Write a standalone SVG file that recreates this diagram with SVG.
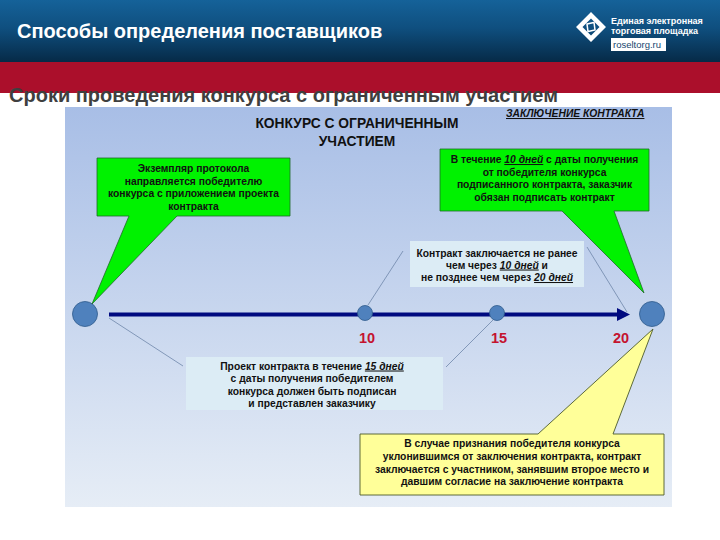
<svg xmlns="http://www.w3.org/2000/svg" width="720" height="540" viewBox="0 0 720 540">
<style>
text{font-family:"Liberation Sans",Arial,sans-serif;font-weight:bold;fill:#111}
.n{font-size:10.300px;text-anchor:middle}
.u{font-style:italic;text-decoration:underline}
.num{font-size:14.500px;fill:#c4132f;text-anchor:middle}
.g{fill:#00f200;stroke:#1f6a2a;stroke-width:.8}
.y{fill:#ffff99;stroke:#4d5a2a;stroke-width:.9}
.b{fill:#dcecf5}
.c{fill:#4f81bd;stroke:#2f5a8c;stroke-width:.8}
.t{stroke:#6f86aa;stroke-width:.8;fill:none}
</style>
<defs>
<linearGradient id="h" x1="0" y1="0" x2="0" y2="1"><stop offset="0" stop-color="#156299"/><stop offset=".45" stop-color="#0f4f7f"/><stop offset="1" stop-color="#062a47"/></linearGradient>
<linearGradient id="p" x1="0" y1="0" x2="0" y2="1"><stop offset="0" stop-color="#a8bee6"/><stop offset="1" stop-color="#e6edf6"/></linearGradient>
</defs>
<rect width="720" height="540" fill="#fff"/>
<g id="header">
<rect width="720" height="62" fill="url(#h)"/>
<rect y="62" width="720" height="31" fill="#ab0f2b"/>
<text x="17" y="38" font-size="20" style="fill:#fff">Способы определения поставщиков</text>
</g>
<g id="logo">
<path fill="#fff" fill-rule="evenodd" d="M591 12L606 27L591 42L576 27ZM591 18.500L582.500 27L591 35.500L599.500 27Z"/>
<path fill="none" stroke="#fff" stroke-width="1.500" d="M587 24L594 22.500L595 30L588 31.500Z"/>
<text x="611" y="24" font-size="9" style="fill:#fff">Единая электронная</text>
<text x="611" y="34" font-size="9" style="fill:#fff">торговая площадка</text>
<rect x="611" y="38" width="55" height="13" fill="#fff"/>
<text x="613" y="48" font-size="9.500" style="fill:#16466e;font-weight:normal">roseltorg.ru</text>
</g>
<text id="subtitle" x="9" y="102" font-size="20" style="fill:#3f3f3f">Сроки проведения конкурса с ограниченным участием</text>
<rect id="panel" x="65" y="107" width="607" height="400" fill="url(#p)"/>
<g id="connectors">
<path class="t" d="M403 251L368 305M587 247L627 312M109 318L183 366M446 367L493 320"/>
<path d="M109 314.500H620" stroke="#000a80" stroke-width="4" fill="none"/>
<path d="M617 308L630 314.500L617 321Z" fill="#000a80"/>
</g>
<g id="heading">
<text x="357" y="128" font-size="13.800" text-anchor="middle">КОНКУРС С ОГРАНИЧЕННЫМ</text>
<text x="357" y="146" font-size="13.800" text-anchor="middle">УЧАСТИЕМ</text>
<text x="506" y="117" font-size="10.300" class="u">ЗАКЛЮЧЕНИЕ КОНТРАКТА</text>
</g>
<g id="node-start"><circle class="c" cx="85" cy="314" r="12.500"/></g>
<g id="node-10"><circle class="c" cx="365" cy="313" r="7.500"/><text class="num" x="367" y="343">10</text></g>
<g id="node-15"><circle class="c" cx="497" cy="313" r="7.500"/><text class="num" x="499" y="343">15</text></g>
<g id="node-20"><circle class="c" cx="652" cy="314" r="12.500"/><text class="num" x="621" y="343">20</text></g>
<g id="callout-protocol">
<path class="g" d="M97 158H290V216H177L92 304L129 216H97Z"/>
<text class="n" x="193.500" y="172">Экземпляр протокола</text>
<text class="n" x="193.500" y="184.500">направляется победителю</text>
<text class="n" x="193.500" y="197">конкурса с приложением проекта</text>
<text class="n" x="193.500" y="209.500">контракта</text>
</g>
<g id="callout-sign">
<path class="g" d="M440 149H649V211H614L644 293L562 211H440Z"/>
<text class="n" x="544.500" y="163">В течение <tspan class="u">10 дней</tspan> с даты получения</text>
<text class="n" x="544.500" y="175.500">от победителя конкурса</text>
<text class="n" x="544.500" y="188">подписанного контракта, заказчик</text>
<text class="n" x="544.500" y="201">обязан подписать контракт</text>
</g>
<g id="box-term">
<rect class="b" x="410" y="241" width="174" height="46"/>
<text class="n" x="497" y="256.500">Контракт заключается не ранее</text>
<text class="n" x="497" y="268.500">чем через <tspan class="u">10 дней</tspan> и</text>
<text class="n" x="497" y="281">не позднее чем через <tspan class="u">20 дней</tspan></text>
</g>
<g id="box-draft">
<rect class="b" x="186" y="357" width="257" height="53"/>
<text class="n" x="312" y="369.500">Проект контракта в течение <tspan class="u">15 дней</tspan></text>
<text class="n" x="312" y="382">с даты получения  победителем</text>
<text class="n" x="312" y="394.500">конкурса должен быть подписан</text>
<text class="n" x="312" y="407">и представлен заказчику</text>
</g>
<g id="callout-evasion">
<path class="y" d="M360 434H538L653 329L613 434H664V495H360Z"/>
<text class="n" x="512" y="447">В случае признания победителя конкурса</text>
<text class="n" x="512" y="460">уклонившимся от заключения контракта, контракт</text>
<text class="n" x="512" y="472.500">заключается с участником, занявшим второе место и</text>
<text class="n" x="512" y="485">давшим согласие на заключение контракта</text>
</g>
</svg>
